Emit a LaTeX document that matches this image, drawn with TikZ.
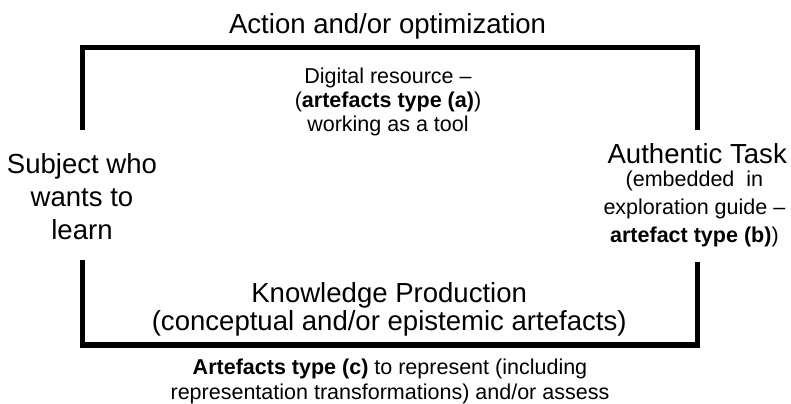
\documentclass[tikz,border=0pt]{standalone}
\usepackage{fontspec}
\setmainfont{Liberation Sans}
\usetikzlibrary{positioning}

\begin{document}
\begin{tikzpicture}[
  frame/.style={line width=3.6pt},
  big/.style={font=\fontsize{19.6}{24}\selectfont, inner sep=0pt},
  mid/.style={font=\fontsize{19.6}{#1}\selectfont, align=center, inner sep=0pt},
  mid/.default=23.5,
  small/.style={font=\fontsize{15.3}{#1}\selectfont, align=center, inner sep=0pt},
  small/.default=17]
  \useasboundingbox (0,0) rectangle (19.775,10.075);

  % Title
  \node[big] (action) at (9.69, 9.41) {Action and/or optimization};

  % Tool in the middle
  \node[small] (tool) at (9.7, 7.52) {Digital resource –\\(\textbf{artefacts type (a)})\\working as a tool};

  % Left and right sides
  \node[mid] (subject) at (2.05, 5.15) {Subject who\\wants to\\learn};
  \node[mid] (task) at (17.43, 6.225) {Authentic Task};
  \node[small=20] (taskinfo) at (17.36, 4.85) {(embedded \ in\\exploration guide –\\\textbf{artefact type (b)})};

  % Bottom
  \node[mid=20] (knowledge) at (9.73, 2.35) {Knowledge Production\\(conceptual and/or epistemic artefacts)};
  \node[small=17.8] (typec) at (9.75, 0.55) {\textbf{Artefacts type (c)} to represent (including\\representation transformations) and/or assess};

  % Frame corners and gap ends
  \coordinate (tl) at (2.06, 8.89);
  \coordinate (tr) at (17.44, 8.89);
  \coordinate (bl) at (2.06, 1.45);
  \coordinate (br) at (17.44, 1.45);
  \coordinate (lup) at (2.06, 6.825);
  \coordinate (ldown) at (2.06, 3.575);
  \coordinate (rup) at (17.44, 6.825);
  \coordinate (rdown) at (17.44, 3.525);

  \draw[frame] (lup) -- (tl) -- (tr) -- (rup);
  \draw[frame] (ldown) -- (bl) -- (br) -- (rdown);
\end{tikzpicture}
\end{document}
